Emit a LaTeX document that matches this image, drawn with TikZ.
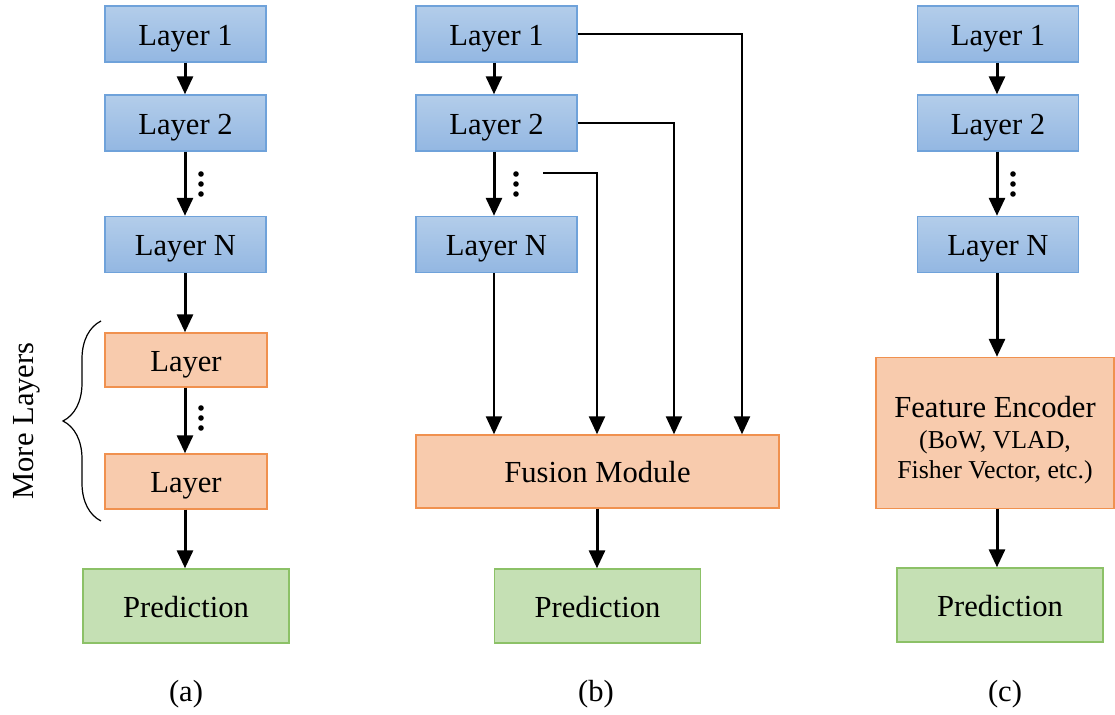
\documentclass[tikz,border=0pt]{standalone}
\usepackage{fontspec}
\setmainfont{Liberation Serif}
\usetikzlibrary{arrows.meta,decorations.pathreplacing}
\definecolor{bluetop}{HTML}{B3CDEA}
\definecolor{bluebot}{HTML}{93B7E2}
\definecolor{blueline}{HTML}{6FA2DA}
\definecolor{orfill}{HTML}{F8CBAD}
\definecolor{orline}{HTML}{F0914F}
\definecolor{grfill}{HTML}{C5E0B4}
\definecolor{grline}{HTML}{8CC167}
\tikzset{
  box/.style={draw, line width=0.7pt, inner sep=0pt, font=\fontsize{15.3}{18}\selectfont, align=center, text height=11.5pt, text depth=0pt},
  bluebox/.style={box, draw=blueline, top color=bluetop, bottom color=bluebot, minimum width=80.5pt, minimum height=28pt},
  orbox/.style={box, draw=orline, fill=orfill},
  grbox/.style={box, draw=grline, fill=grfill, minimum width=103pt, minimum height=37pt},
  arr/.style={line width=1.5pt, -{Triangle[width=8pt,length=9pt]}},
  farr/.style={line width=1.2pt, -{Triangle[width=8pt,length=9pt]}},
  dotc/.style={circle, fill=black, inner sep=0pt, minimum size=2.8pt},
  lab/.style={font=\fontsize{15.3}{18}\selectfont}
}
\begin{document}
\begin{tikzpicture}[x=0.5pt,y=-0.5pt]
\useasboundingbox (0,0) rectangle (1115,715);
% ---------- (a)
\node[bluebox] (a1) at (185.5,34) {Layer 1};
\node[bluebox] (a2) at (185.5,123) {Layer 2};
\node[bluebox] (aN) at (185.5,244.5) {Layer N};
\node[orbox, minimum width=81pt, minimum height=27pt] (aL1) at (186,360) {Layer};
\node[orbox, minimum width=81pt, minimum height=27.5pt] (aL2) at (186,481.5) {Layer};
\node[grbox] (aP) at (186,606) {Prediction};
\draw[arr] (a1.south -| 185,0) -- (a2.north -| 185,0);
\draw[arr] (a2.south -| 185,0) -- (aN.north -| 185,0);
\draw[arr] (aN.south -| 185,0) -- (aL1.north -| 185,0);
\draw[arr] (aL1.south -| 185,0) -- (aL2.north -| 185,0);
\draw[arr] (aL2.south -| 185,0) -- (aP.north -| 185,0);
\node[dotc] (ad1) at (201,174) {};
\node[dotc] (ad2) at (201,184) {};
\node[dotc] (ad3) at (201,194) {};
\node[dotc] (ae1) at (201,408) {};
\node[dotc] (ae2) at (201,418) {};
\node[dotc] (ae3) at (201,428) {};
\coordinate (brb) at (101,521);
\coordinate (brt) at (101,321);
\draw[line width=0.6pt, decorate, decoration={brace, amplitude=19pt}] (brb) -- (brt);
\node[lab, rotate=90] (more) at (27,421) {More Layers};
\node[lab] (la) at (186,694) {(a)};
% ---------- (b)
\node[bluebox] (b1) at (496.5,34) {Layer 1};
\node[bluebox] (b2) at (496.5,123) {Layer 2};
\node[bluebox] (bN) at (496.5,244.5) {Layer N};
\node[orbox, minimum width=181.5pt, minimum height=36.5pt] (bF) at (597.5,471.5) {Fusion Module};
\node[grbox] (bP) at (597.5,606) {Prediction};
\draw[arr] (b1.south -| 494,0) -- (b2.north -| 494,0);
\draw[arr] (b2.south -| 494,0) -- (bN.north -| 494,0);
\draw[farr] (bN.south -| 494,0) -- (bF.north -| 494,0);
\coordinate (bs) at (543,173);
\draw[farr] (bs) -| (bF.north -| 597,0);
\draw[farr] (b2.east) -| (bF.north -| 674,0);
\draw[farr] (b1.east) -| (bF.north -| 742,0);
\draw[arr] (bF.south -| 597,0) -- (bP.north -| 597,0);
\node[dotc] (bd1) at (516,174) {};
\node[dotc] (bd2) at (516,184) {};
\node[dotc] (bd3) at (516,194) {};
\node[lab] (lb) at (596,694) {(b)};
% ---------- (c)
\node[bluebox] (c1) at (998,34) {Layer 1};
\node[bluebox] (c2) at (998,123) {Layer 2};
\node[bluebox] (cN) at (998,244.5) {Layer N};
\node[orbox, minimum width=119pt, minimum height=75.5pt] (cF) at (995,433) {};
\node[lab, anchor=base] (cFt) at (995,418) {Feature Encoder};
\node[font=\fontsize{12.9}{15}\selectfont, anchor=base] (cFs1) at (995,449) {(BoW, VLAD,};
\node[font=\fontsize{12.9}{15}\selectfont, anchor=base] (cFs2) at (995,479) {Fisher Vector, etc.)};
\node[grbox] (cP) at (1000,605) {Prediction};
\draw[arr] (c1.south -| 997,0) -- (c2.north -| 997,0);
\draw[arr] (c2.south -| 997,0) -- (cN.north -| 997,0);
\draw[arr] (cN.south -| 997,0) -- (cF.north -| 997,0);
\draw[arr] (cF.south -| 997,0) -- (cP.north -| 997,0);
\node[dotc] (cd1) at (1013,174) {};
\node[dotc] (cd2) at (1013,184) {};
\node[dotc] (cd3) at (1013,194) {};
\node[lab] (lc) at (1005,694) {(c)};
\end{tikzpicture}
\end{document}
